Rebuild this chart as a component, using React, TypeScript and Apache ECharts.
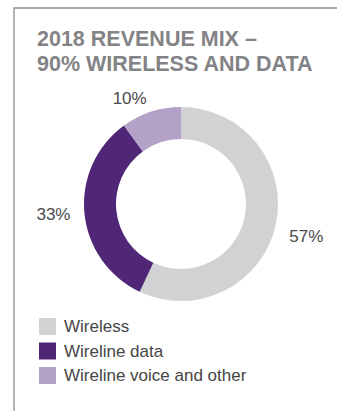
import React, { useEffect, useRef } from "react";
import * as echarts from "echarts";

const categories = ["Wireless", "Wireline data", "Wireline voice and other"];
const shares = [57, 33, 10];
const colors = ["#d1d2d4", "#4f2776", "#b4a1c7"];
const titleLines = ["2018 REVENUE MIX –", "90% WIRELESS AND DATA"];

export default function App() {
  const ref = useRef<HTMLDivElement>(null);
  useEffect(() => {
    document.body.style.margin = "0";
    const chart = echarts.init(ref.current!, null, { renderer: "svg" });
    const font = "'Liberation Sans', Arial, Helvetica, sans-serif";
    chart.setOption({
      animation: false,
      backgroundColor: "#ffffff",
      title: {
        text: titleLines.join("\n"),
        left: 37,
        top: 26,
        padding: 0,
        textStyle: {
          fontFamily: font,
          fontSize: 21.5,
          fontWeight: "bold",
          color: "#838386",
          lineHeight: 25,
        },
      },
      legend: {
        orient: "vertical",
        left: 39,
        top: 318,
        padding: 0,
        itemWidth: 17,
        itemHeight: 17,
        itemGap: 7.5,
        icon: "rect",
        data: categories,
        textStyle: {
          fontFamily: font,
          fontSize: 17,
          color: "#454545",
          padding: [0, 0, 0, 3],
        },
      },
      graphic: [
        {
          type: "polyline",
          shape: { points: [[337, 8], [14, 8], [14, 411]] },
          style: { stroke: "#8c8c8c", lineWidth: 1.3, fill: "none" },
          silent: true,
        },
      ],
      series: [
        {
          type: "pie",
          center: [181, 204],
          radius: [65, 97],
          startAngle: 90,
          clockwise: true,
          silent: true,
          avoidLabelOverlap: false,
          label: {
            show: true,
            position: "outside",
            formatter: "{c}%",
            fontFamily: font,
            fontSize: 17,
            color: "#4a4a4a",
            distanceToLabelLine: 0,
          },
          labelLine: { show: false, length: 14, length2: 0 },
          labelLayout: (p: any) => (p.dataIndex === 0 ? { dy: 8 } : {}),
          data: categories.map((name, i) => ({
            name,
            value: shares[i],
            itemStyle: { color: colors[i] },
          })),
        },
      ],
    });
    return () => chart.dispose();
  }, []);
  return <div ref={ref} style={{ width: 337, height: 411 }} />;
}
